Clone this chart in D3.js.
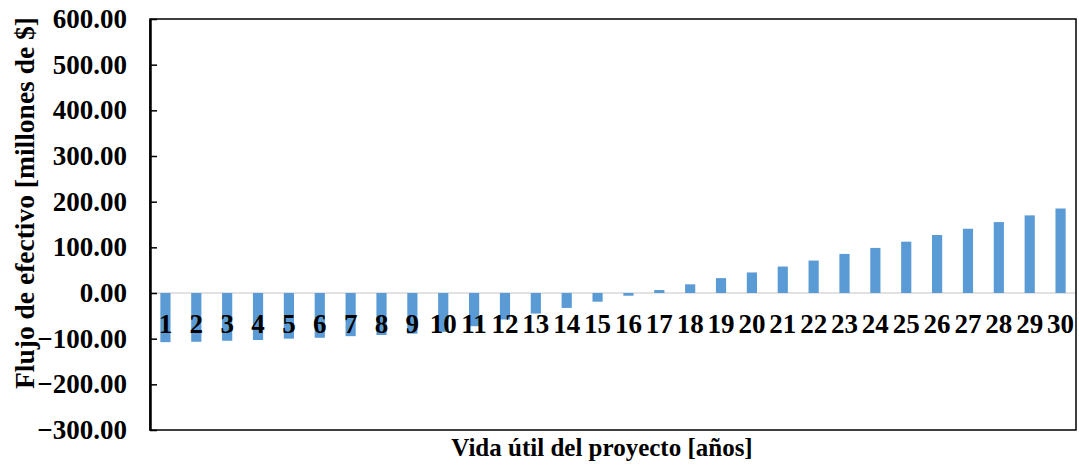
<!DOCTYPE html>
<html><head><meta charset="utf-8">
<script src="https://cdn.jsdelivr.net/npm/d3@7"></script>
<style>body{margin:0;background:#fff}svg{display:block}text{font-family:"Liberation Serif","Times New Roman",serif;font-weight:bold;fill:#000}</style>
</head><body>
<svg id="c" width="1079" height="466"></svg>
<script>
const categories = ["1","2","3","4","5","6","7","8","9","10","11","12","13","14","15","16","17","18","19","20","21","22","23","24","25","26","27","28","29","30"];
const values = [-107.6,-106.8,-104.6,-103,-100,-98,-94.5,-92,-89,-85,-72.7,-58,-45,-32.7,-19,-6,6.5,19,32.6,45,58,71,85.6,98.7,112.4,127,140.7,155.3,170,185];
const yTicks = [-300,-200,-100,0,100,200,300,400,500,600];
const yTitle = "Flujo de efectivo [millones de $]";
const xTitle = "Vida útil del proyecto [años]";

const svg = d3.select("#c");
const L = 150, R = 1076, T = 19, B = 430;
const x = d3.scaleBand().domain(categories).range([L, R]).paddingInner(0.67).paddingOuter(0.335);
const y = d3.scaleLinear().domain([-300, 600]).range([B, T]);

// zero line
svg.append("line").attr("x1", L).attr("x2", R).attr("y1", y(0)).attr("y2", y(0))
  .attr("stroke", "#d9d9d9").attr("stroke-width", 1.5);

// bars
svg.append("g").selectAll("rect").data(values).join("rect")
  .attr("x", (d, i) => x(categories[i]))
  .attr("width", x.bandwidth())
  .attr("y", d => y(Math.max(0, d)))
  .attr("height", d => Math.abs(y(d) - y(0)))
  .attr("fill", "#5B9BD5");

// category labels
svg.append("g").selectAll("text").data(categories).join("text")
  .attr("x", d => x(d) + x.bandwidth() / 2)
  .attr("y", y(0) + 40)
  .attr("text-anchor", "middle")
  .attr("font-size", 27)
  .text(d => d);

// frame
svg.append("rect").attr("x", L).attr("y", T).attr("width", R - L).attr("height", B - T)
  .attr("fill", "none").attr("stroke", "#000").attr("stroke-width", 1.5);

// y axis
const ay = svg.append("g").attr("transform", `translate(${L},0)`)
  .call(d3.axisLeft(y).tickValues(yTicks).tickFormat(d3.format(".2f")).tickSizeInner(-7).tickSizeOuter(0).tickPadding(23));
ay.select(".domain").attr("stroke", "#000").attr("stroke-width", 2.5);
ay.selectAll(".tick line").attr("stroke", "#000").attr("stroke-width", 1.5);
ay.selectAll(".tick text").attr("font-size", 27).attr("font-family", "Liberation Serif").attr("font-weight", "bold").attr("fill", "#000");

// titles
svg.append("text").attr("transform", `translate(34,${203}) rotate(-90)`)
  .attr("text-anchor", "middle").attr("font-size", 27.5).text(yTitle);
svg.append("text").attr("x", 602).attr("y", 456)
  .attr("text-anchor", "middle").attr("font-size", 25).text(xTitle);
</script>
</body></html>
